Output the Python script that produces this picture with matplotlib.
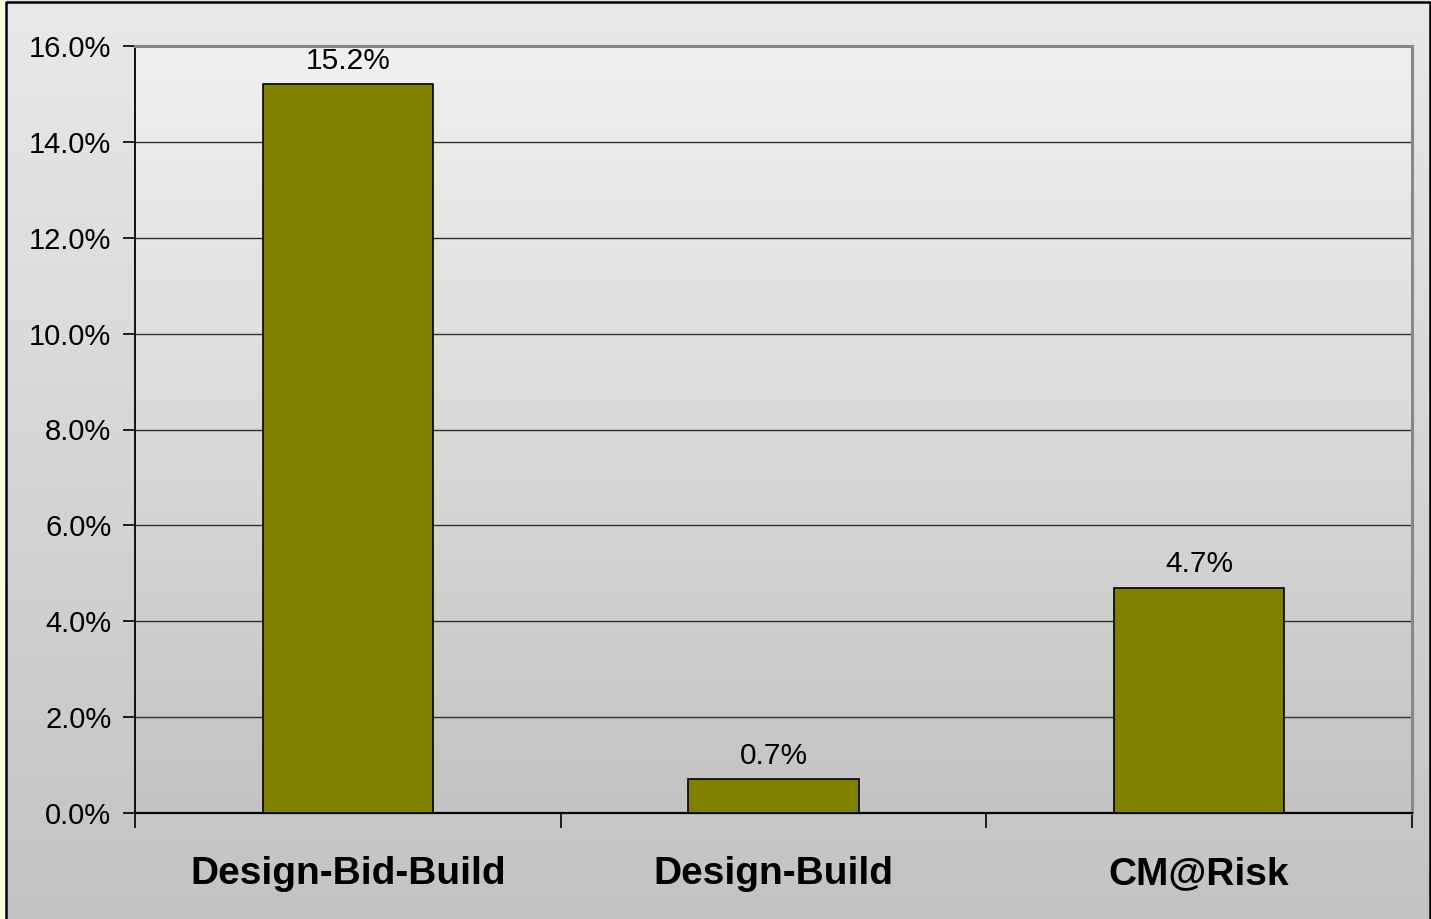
import matplotlib.pyplot as plt
import numpy as np
from matplotlib.colors import LinearSegmentedColormap

categories = ['Design-Bid-Build', 'Design-Build', 'CM@Risk']
values = [15.2, 0.7, 4.7]
yticks = [0, 2, 4, 6, 8, 10, 12, 14, 16]

plt.rcParams['font.family'] = ['Liberation Sans', 'DejaVu Sans']

fig = plt.figure(figsize=(14.31, 9.19), dpi=100)

# figure background gradient
bg = fig.add_axes([0, 0, 1, 1], zorder=-10)
grad = np.linspace(0, 1, 256).reshape(-1, 1)
cmap_bg = LinearSegmentedColormap.from_list('bg', ['#e9e9e9', '#c3c3c3'])
bg.imshow(grad, aspect='auto', cmap=cmap_bg, extent=[0, 1, 0, 1], origin='upper')
bg.set_xlim(0, 1)
bg.set_ylim(0, 1)
bg.axis('off')
# cream strip at the left and black frame (left, top, right)
bg.axvspan(0, 5 / 1431, color='#ffffe0', zorder=2)
bg.plot([5.5 / 1431, 5.5 / 1431, 1429.5 / 1431, 1429.5 / 1431],
        [0, 1 - 1.5 / 919, 1 - 1.5 / 919, 0], color='black', linewidth=1.8, zorder=3)

ax = fig.add_axes([135 / 1431, 1 - 813 / 919, (1412 - 135) / 1431, (813 - 46) / 919])
x = np.arange(len(categories))

cmap_ax = LinearSegmentedColormap.from_list('ax', ['#f1f1f1', '#c3c3c3'])
ax.imshow(grad, aspect='auto', cmap=cmap_ax, extent=[-0.5, 2.5, 0, 16], origin='upper', zorder=0)

for t in yticks[1:-1]:
    ax.axhline(t, color='#303030', linewidth=1, zorder=1)

bars = ax.bar(x, values, width=0.4, color='#808000', edgecolor='black', linewidth=1.2, zorder=3)
for xi, v in zip(x, values):
    ax.text(xi, v + 0.2, f'{v:.1f}%', ha='center', va='bottom', fontsize=21.5, color='black', zorder=4)

ax.set_xlim(-0.5, 2.5)
ax.set_ylim(0, 16)
ax.set_yticks(yticks)
ax.set_yticklabels([f'{t:.1f}%' for t in yticks], fontsize=21)
ax.set_xticks(x)
ax.set_xticklabels(categories, fontsize=28, fontweight='bold')
ax.set_xticks([-0.5, 0.5, 1.5, 2.5], minor=True)
ax.tick_params(axis='x', which='major', length=0, pad=31)
ax.tick_params(axis='x', which='minor', length=11, width=1.2, color='black', direction='out')
ax.tick_params(axis='y', length=9, width=1.2, direction='out', pad=8)

ax.spines['left'].set_color('black')
ax.spines['left'].set_linewidth(1.3)
ax.spines['bottom'].set_color('black')
ax.spines['bottom'].set_linewidth(1.6)
ax.spines['top'].set_color('#888888')
ax.spines['top'].set_linewidth(2.2)
ax.spines['right'].set_color('#888888')
ax.spines['right'].set_linewidth(2.2)

fig.savefig('out.png', dpi=100)
